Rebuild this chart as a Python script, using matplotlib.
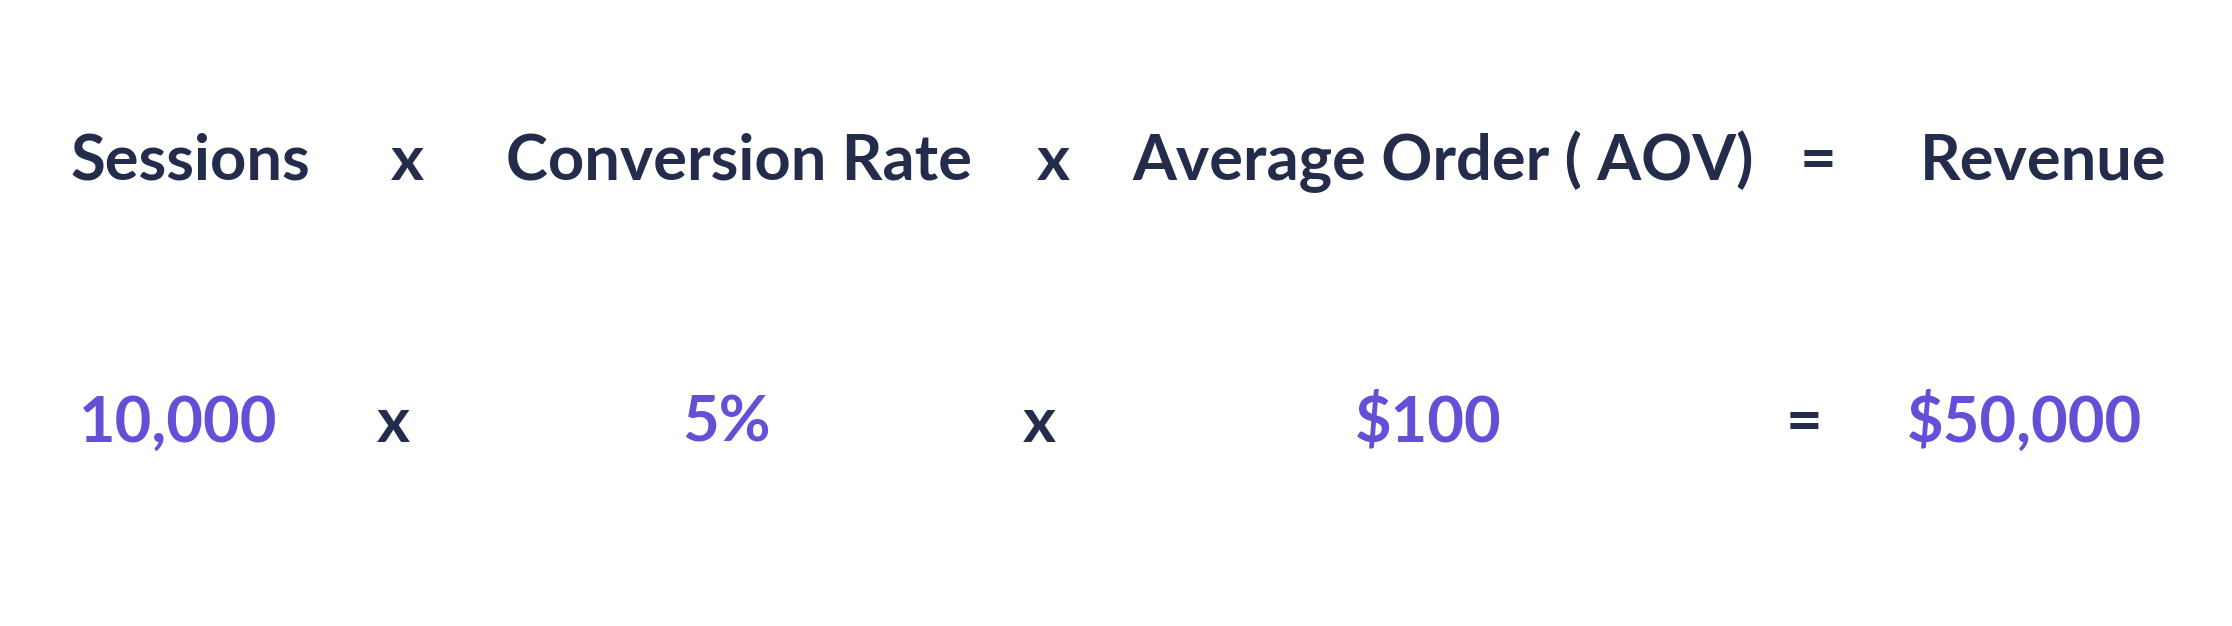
import matplotlib.pyplot as plt

# top row: labels of the formula
labels = ["Sessions", "x", "Conversion Rate", "x", "Average Order ( AOV)", "=", "Revenue"]
label_x = [190, 407, 739, 1053, 1443, 1818, 2043]

# bottom row: example values
values = ["10,000", "x", "5%", "x", "$100", "=", "$50,000"]
value_x = [178, 393, 726, 1039, 1428, 1804, 2025]
is_number = [True, False, True, False, True, False, True]

navy = "#232c4a"
purple = "#654fd6"

W, H = 2232, 626
fig = plt.figure(figsize=(W / 100, H / 100), dpi=100)
fig.patch.set_facecolor("white")

fs = 45.5
for txt, x in zip(labels, label_x):
    fig.text(x / W, 1 - 180 / H, txt, ha="center", va="baseline",
             fontsize=fs, fontfamily="Lato", fontweight="bold", color=navy)

for txt, x, num in zip(values, value_x, is_number):
    fig.text(x / W, 1 - 442 / H, txt.replace("$", r"\$"), ha="center", va="baseline",
             fontsize=fs, fontfamily="Lato", fontweight="bold",
             color=purple if num else navy)

fig.savefig("out.png", dpi=100, facecolor="white")
